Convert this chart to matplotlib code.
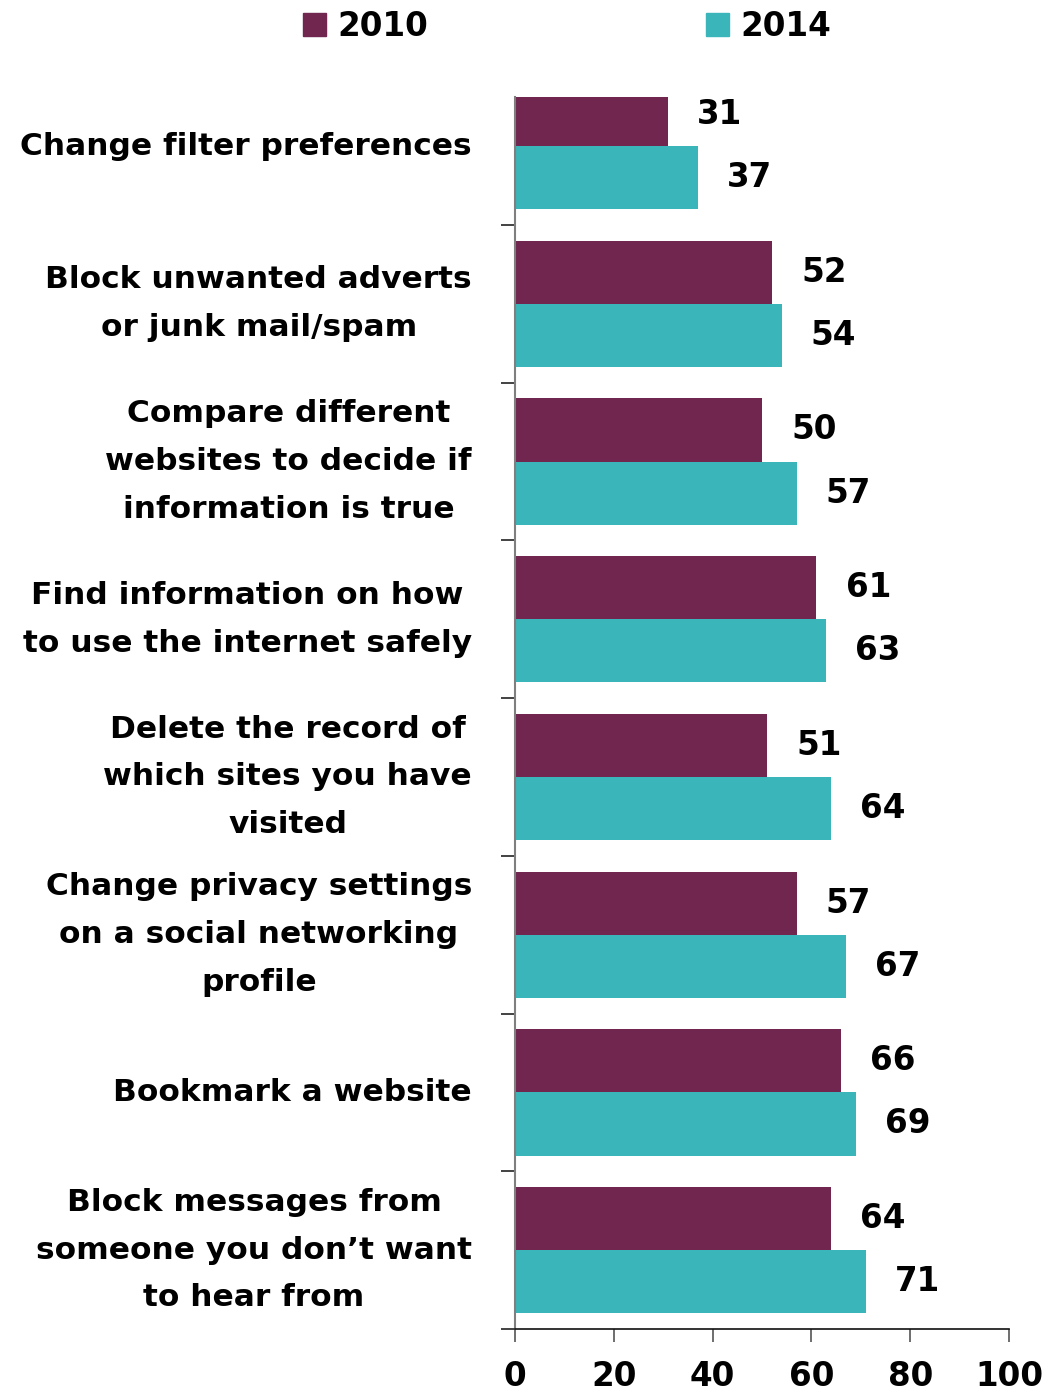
import matplotlib.pyplot as plt
import numpy as np
from matplotlib.patches import Patch

plt.rcParams['font.family'] = ['DejaVu Sans']
plt.rcParams['font.weight'] = 'bold'

categories = [
    "Change filter preferences",
    "Block unwanted adverts\nor junk mail/spam",
    "Compare different\nwebsites to decide if\ninformation is true",
    "Find information on how\nto use the internet safely",
    "Delete the record of\nwhich sites you have\nvisited",
    "Change privacy settings\non a social networking\nprofile",
    "Bookmark a website",
    "Block messages from\nsomeone you don\u2019t want\nto hear from",
]
years = ["2010", "2014"]
vals_2010 = [31, 52, 50, 61, 51, 57, 66, 64]
vals_2014 = [37, 54, 57, 63, 64, 67, 69, 71]
x_ticks = [0, 20, 40, 60, 80, 100]

purple = '#70264F'
teal = '#3AB5BA'

fig = plt.figure(figsize=(10.61, 13.96), dpi=100)
ax = fig.add_axes([515 / 1061, 1 - 1329 / 1396, 494 / 1061, (1329 - 97) / 1396])

y = np.arange(len(categories))
h = 0.4
ax.barh(y - h / 2, vals_2010, height=h, color=purple, zorder=2)
ax.barh(y + h / 2, vals_2014, height=h, color=teal, zorder=2)

for yy, v in zip(y - h / 2, vals_2010):
    ax.annotate(str(v), (v, yy), xytext=(21, 0), textcoords='offset points',
                va='center', ha='left', fontsize=23.5, fontweight='bold')
for yy, v in zip(y + h / 2, vals_2014):
    ax.annotate(str(v), (v, yy), xytext=(21, 0), textcoords='offset points',
                va='center', ha='left', fontsize=23.5, fontweight='bold')

ax.set_xlim(0, 100)
ax.set_ylim(len(categories) - 0.5, -0.311)
ax.set_xticks(x_ticks)
ax.set_xticklabels([str(t) for t in x_ticks], fontsize=23.5, fontweight='bold')
ax.tick_params(axis='x', direction='out', length=9.5, width=1.2, color='#555555', pad=13)

# boundaries get tick marks, centres get the category labels
ax.set_yticks(np.arange(len(categories)) + 0.5)
ax.set_yticklabels([])
ax.set_yticks(y, minor=True)
ax.set_yticklabels(categories, minor=True, fontsize=22.5, fontweight='bold', linespacing=1.82)
ax.tick_params(axis='y', which='major', direction='out', length=10, width=1.2, color='#222222')
ax.tick_params(axis='y', which='minor', length=0, pad=31)
for lab in ax.get_yticklabels(minor=True):
    lab.set_multialignment('center')
    lab.set_verticalalignment('center')

for s in ['top', 'right']:
    ax.spines[s].set_visible(False)
ax.spines['left'].set_color('#7f7f7f')
ax.spines['left'].set_linewidth(1.5)
ax.spines['bottom'].set_color('#111111')
ax.spines['bottom'].set_linewidth(1.2)

handles = [Patch(color=purple), Patch(color=teal)]
fig.legend(handles, years, loc='center', bbox_to_anchor=(567 / 1061, 1 - 26 / 1396),
           ncol=2, frameon=False, handlelength=0.7, handleheight=0.7,
           handletextpad=0.35, columnspacing=8.5, prop={'weight': 'bold', 'size': 23.5})

fig.savefig('out.png', dpi=100)
